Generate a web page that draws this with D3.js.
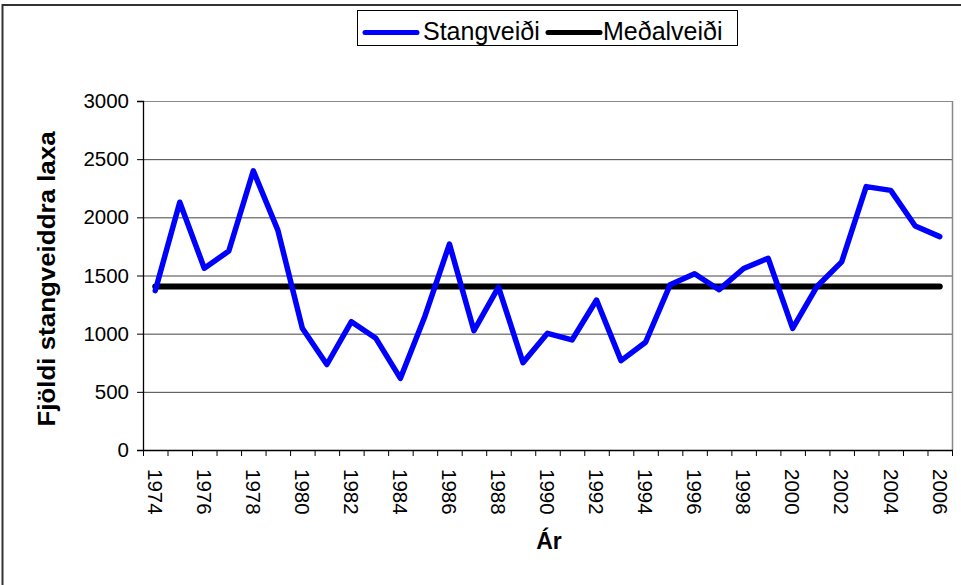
<!DOCTYPE html>
<html>
<head>
<meta charset="utf-8">
<script src="https://cdn.jsdelivr.net/npm/d3@7"></script>
<style>
  html, body { margin: 0; padding: 0; background: #fff; }
  svg { display: block; }
  text { font-family: "Liberation Sans", Arial, sans-serif; }
</style>
</head>
<body>
<svg id="chart" width="961" height="585"></svg>
<script>
// ---- Data ----
const years = [1974,1975,1976,1977,1978,1979,1980,1981,1982,1983,1984,1985,1986,1987,1988,1989,1990,1991,1992,1993,1994,1995,1996,1997,1998,1999,2000,2001,2002,2003,2004,2005,2006];
const stangveidi = [1370,2130,1562,1710,2400,1890,1046,735,1103,960,616,1150,1770,1026,1400,751,1003,946,1289,768,926,1420,1515,1378,1560,1648,1046,1408,1617,2264,2232,1925,1834];
const medalveidi = [1406,1406,1406,1406,1406,1406,1406,1406,1406,1406,1406,1406,1406,1406,1406,1406,1406,1406,1406,1406,1406,1406,1406,1406,1406,1406,1406,1406,1406,1406,1406,1406,1406];
const yTicks = [0,500,1000,1500,2000,2500,3000];
const xLabelYears = [1974,1976,1978,1980,1982,1984,1986,1988,1990,1992,1994,1996,1998,2000,2002,2004,2006];
const seriesNames = ["Stangveiði", "Meðalveiði"];
const seriesColors = ["#0000ff", "#000000"];
const yTitle = "Fjöldi stangveiddra laxa";
const xTitle = "Ár";

// ---- Layout ----
const plot = { left: 143, right: 952, top: 101, bottom: 450 };
const svg = d3.select("#chart");

// outer chart border
svg.append("rect")
  .attr("x", 2.5).attr("y", 5).attr("width", 1000).attr("height", 1000)
  .attr("fill", "#fff").attr("stroke", "#333").attr("stroke-width", 2);

const x = d3.scaleBand().domain(years).range([plot.left, plot.right]).padding(0);
const xc = d => x(d) + x.bandwidth() / 2;
const y = d3.scaleLinear().domain([0, 3000]).range([plot.bottom, plot.top]);

// gridlines
svg.append("g").selectAll("line")
  .data(yTicks.filter(t => t > 0))
  .join("line")
  .attr("x1", plot.left).attr("x2", plot.right)
  .attr("y1", d => y(d) + 0.5).attr("y2", d => y(d) + 0.5)
  .attr("stroke", d => d === 3000 ? "#888" : "#444").attr("stroke-width", 1);

// right border of plot
svg.append("line")
  .attr("x1", plot.right + 0.5).attr("x2", plot.right + 0.5)
  .attr("y1", plot.top).attr("y2", plot.bottom)
  .attr("stroke", "#888").attr("stroke-width", 1.5);

// Y axis
const yAxis = d3.axisLeft(y).tickValues(yTicks).tickSize(6).tickPadding(8).tickFormat(d3.format("d"));
const gy = svg.append("g").attr("transform", `translate(${plot.left},0)`).call(yAxis);
gy.select(".domain").attr("stroke", "#000").attr("stroke-width", 1.3);
gy.selectAll(".tick line").attr("stroke", "#000");
gy.selectAll(".tick text").attr("font-size", 20.5).attr("fill", "#000")
  .attr("font-family", "'Liberation Sans', Arial, sans-serif");

// X axis: ticks between categories
const xAxis = d3.axisBottom(x).tickValues(xLabelYears).tickSize(0).tickFormat(d3.format("d"));
const gx = svg.append("g").attr("transform", `translate(0,${plot.bottom})`).call(xAxis);
gx.select(".domain").remove();
gx.selectAll(".tick text")
  .attr("font-size", 20.5).attr("fill", "#000")
  .attr("font-family", "'Liberation Sans', Arial, sans-serif")
  .attr("text-anchor", "start")
  .attr("transform", "translate(0,19) rotate(90)")
  .attr("x", 0).attr("y", 0).attr("dy", "0.35em");

const boundaries = years.map(d => x(d)).concat([plot.right]);
svg.append("g").selectAll("line").data(boundaries).join("line")
  .attr("x1", d => d + 0.5).attr("x2", d => d + 0.5)
  .attr("y1", plot.bottom).attr("y2", plot.bottom + 6)
  .attr("stroke", "#000").attr("stroke-width", 1);
svg.append("line")
  .attr("x1", plot.left).attr("x2", plot.right + 1)
  .attr("y1", plot.bottom + 0.5).attr("y2", plot.bottom + 0.5)
  .attr("stroke", "#000").attr("stroke-width", 1.3);

// Lines
const line = d3.line().x((d, i) => xc(years[i])).y(d => y(d));
svg.append("path").datum(medalveidi)
  .attr("d", line).attr("fill", "none")
  .attr("stroke", seriesColors[1]).attr("stroke-width", 6)
  .attr("stroke-linecap", "round").attr("stroke-linejoin", "round");
svg.append("path").datum(stangveidi)
  .attr("d", line).attr("fill", "none")
  .attr("stroke", seriesColors[0]).attr("stroke-width", 5.5)
  .attr("stroke-linecap", "round").attr("stroke-linejoin", "round");

// Axis titles
svg.append("text")
  .attr("transform", "translate(55,279) rotate(-90) scale(1.08,1)")
  .attr("text-anchor", "middle")
  .attr("font-size", 24).attr("font-weight", "bold")
  .text(yTitle);
svg.append("text")
  .attr("x", 549).attr("y", 549)
  .attr("text-anchor", "middle")
  .attr("font-size", 23).attr("font-weight", "bold")
  .text(xTitle);

// Legend
const lg = svg.append("g");
lg.append("rect").attr("x", 357.5).attr("y", 10.5).attr("width", 380).attr("height", 35)
  .attr("fill", "#fff").attr("stroke", "#000").attr("stroke-width", 1);
const legendItems = [
  { name: seriesNames[0], color: seriesColors[0], lx: 365, tx: 423 },
  { name: seriesNames[1], color: seriesColors[1], lx: 548, tx: 603 }
];
legendItems.forEach(it => {
  lg.append("line").attr("x1", it.lx).attr("x2", it.lx + 52)
    .attr("y1", 32.5).attr("y2", 32.5)
    .attr("stroke", it.color).attr("stroke-width", 5).attr("stroke-linecap", "round");
  lg.append("text").attr("x", it.tx).attr("y", 40)
    .attr("font-size", 25).attr("fill", "#000").text(it.name);
});
</script>
</body>
</html>
